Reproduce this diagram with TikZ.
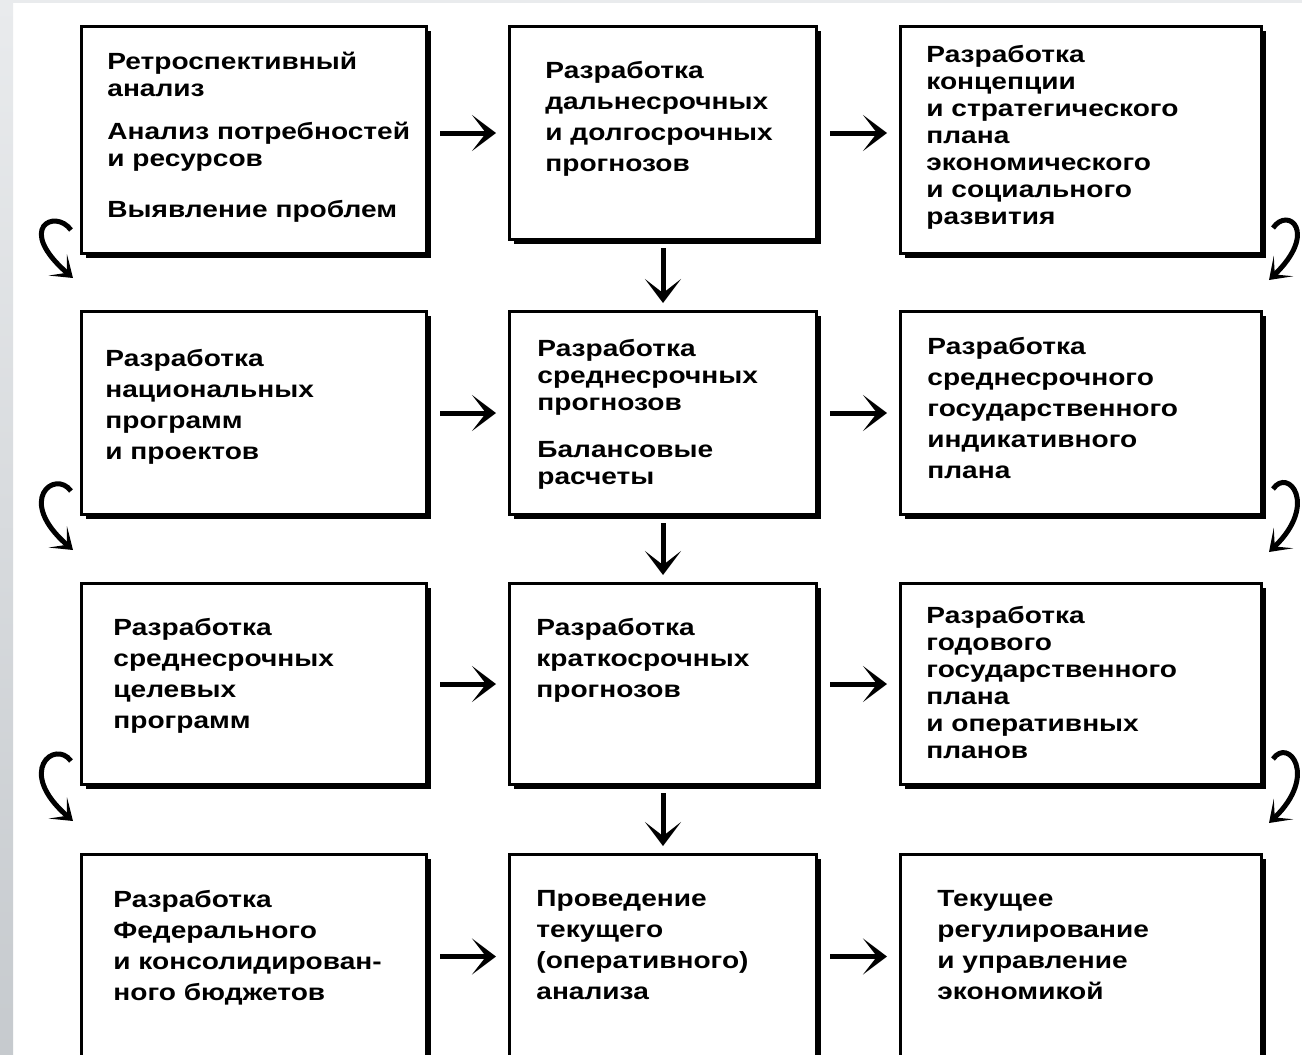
\documentclass[tikz,border=0pt]{standalone}
\usepackage{fontspec}
\setmainfont{Liberation Sans}[FakeStretch=1.2]
\usetikzlibrary{arrows.meta,shadows}

\definecolor{stripgrey}{HTML}{E9EBED}
\definecolor{stripdark}{HTML}{C6CACE}

\begin{document}
\begin{tikzpicture}[x=0.5pt,y=-0.5pt]
\tikzstyle{box}=[draw,line width=1.5pt,fill=white,inner sep=0pt,anchor=north west,
  drop shadow={shadow xshift=2pt,shadow yshift=-2pt,opacity=1,fill=black}]
\tikzstyle{colA}=[minimum width=172.5pt]
\tikzstyle{colB}=[minimum width=153.5pt]
\tikzstyle{colC}=[minimum width=180.5pt]
\tikzstyle{txt}=[anchor=north west,align=left,inner sep=0pt,execute at begin node={\rule{0pt}{9pt}},
  font=\bfseries\fontsize{11.7}{13.5}\selectfont]
\tikzstyle{txtw}=[txt,font=\bfseries\fontsize{11.7}{15.5}\selectfont]
\tikzstyle{arr}=[line width=2.5pt,shorten <=6pt,shorten >=6pt,-{Stealth[length=12pt,width=18pt,inset=7pt]}]
\tikzstyle{varr}=[arr,shorten <=3.5pt,shorten >=3.5pt]
\tikzstyle{curv}=[line width=2.5pt,-{Stealth[length=10pt,width=14pt,inset=6pt]}]

% background
\useasboundingbox (0,0) rectangle (1302,1055);
\fill[white] (0,0) rectangle (1302,1055);
\shade[top color=stripgrey,bottom color=stripdark] (0,0) rectangle (13,1055);
\fill[stripgrey] (0,0) rectangle (1302,3);

% boxes
\draw (80,25)  node[box,colA,minimum height=113.5pt] (b11) {};
\draw (508,25) node[box,colB,minimum height=106.5pt] (b12) {};
\draw (899,25) node[box,colC,minimum height=113.5pt] (b13) {};
\draw (80,310)  node[box,colA,minimum height=101.5pt] (b21) {};
\draw (508,310) node[box,colB,minimum height=101.5pt] (b22) {};
\draw (899,310) node[box,colC,minimum height=101.5pt] (b23) {};
\draw (80,582)  node[box,colA,minimum height=100.5pt] (b31) {};
\draw (508,582) node[box,colB,minimum height=100.5pt] (b32) {};
\draw (899,582) node[box,colC,minimum height=100.5pt] (b33) {};
\draw (80,853)  node[box,colA,minimum height=110pt] (b41) {};
\draw (508,853) node[box,colB,minimum height=110pt] (b42) {};
\draw (899,853) node[box,colC,minimum height=110pt] (b43) {};

% texts
\draw (107,52) node[txt] (t11) {Ретроспективный\\анализ\\[8pt]Анализ потребностей\\и ресурсов\\[12pt]Выявление проблем};
\draw (545,61) node[txtw] (t12) {Разработка\\дальнесрочных\\и долгосрочных\\прогнозов};
\draw (926,45) node[txt] (t13) {Разработка\\концепции\\и стратегического\\плана\\экономического\\и социального\\развития};
\draw (105,349) node[txtw] (t21) {Разработка\\национальных\\программ\\и проектов};
\draw (537,339) node[txt] (t22) {Разработка\\среднесрочных\\прогнозов\\[10pt]Балансовые\\расчеты};
\draw (927,337) node[txtw] (t23) {Разработка\\среднесрочного\\государственного\\индикативного\\плана};
\draw (113,618) node[txtw] (t31) {Разработка\\среднесрочных\\целевых\\программ};
\draw (536,618) node[txtw] (t32) {Разработка\\краткосрочных\\прогнозов};
\draw (926,606) node[txt] (t33) {Разработка\\годового\\государственного\\плана\\и оперативных\\планов};
\draw (113,890) node[txtw] (t41) {Разработка\\Федерального\\и консолидирован-\\ного бюджетов};
\draw (536,890) node[txtw] (t42) {Проведение\\текущего\\(оперативного)\\анализа};
\draw (937,890) node[txtw] (t43) {Текущее\\регулирование\\и управление\\экономикой};

% straight arrows
\draw (b11.east |- b12.west) edge[arr] (b12.west);
\draw (b12.east) edge[arr] (b12.east -| b13.west);
\draw (b21) edge[arr] (b22);
\draw (b22) edge[arr] (b23);
\draw (b31) edge[arr] (b32);
\draw (b32) edge[arr] (b33);
\draw ([yshift=4pt]b41.east) edge[arr] ([yshift=4pt]b42.west);
\draw ([yshift=4pt]b42.east) edge[arr] ([yshift=4pt]b43.west);
\draw (b12) edge[varr] (b22);
\draw (b22) edge[varr] (b32);
\draw (b32) edge[varr] (b42);

% curved arrows
\draw[curv] ([shift={(-9,-25)}]b11.south west) .. controls +(-16,-22) and +(-58,-50) .. ([shift={(-7,-32)}]b21.north west);
\draw[curv] ([shift={(-9,-25)}]b21.south west) .. controls +(-16,-22) and +(-58,-50) .. ([shift={(-7,-32)}]b31.north west);
\draw[curv] ([shift={(-9,-25)}]b31.south west) .. controls +(-16,-22) and +(-58,-50) .. ([shift={(-7,-32)}]b41.north west);
\draw[curv] ([shift={(10,-27)}]b13.south east) .. controls +(15,-22) and +(50,-48) .. ([shift={(6,-30)}]b23.north east);
\draw[curv] ([shift={(10,-27)}]b23.south east) .. controls +(15,-22) and +(50,-48) .. ([shift={(6,-30)}]b33.north east);
\draw[curv] ([shift={(10,-27)}]b33.south east) .. controls +(15,-22) and +(50,-48) .. ([shift={(6,-30)}]b43.north east);
\end{tikzpicture}
\end{document}
